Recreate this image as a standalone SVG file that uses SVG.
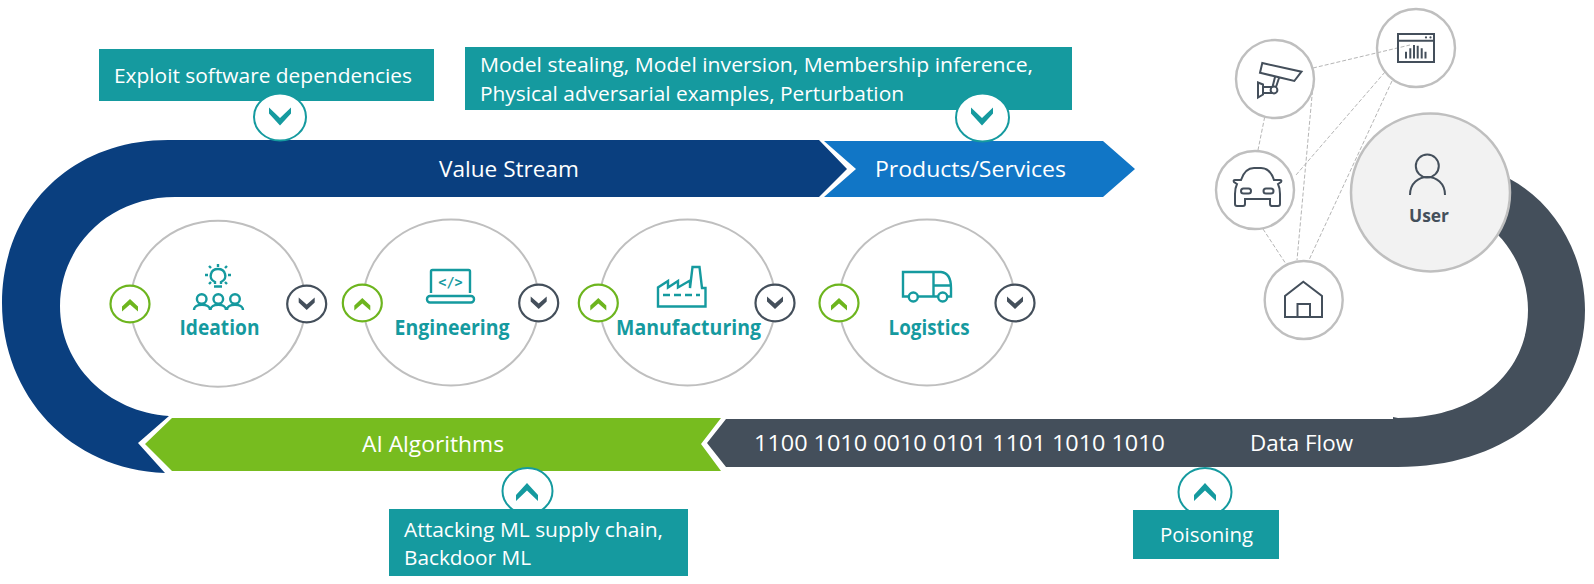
<svg xmlns="http://www.w3.org/2000/svg" width="1594" height="584" viewBox="0 0 1594 584">
<style>
.t{font-family:"Open Sans","Liberation Sans",sans-serif;fill:#fff}
.band{font-size:22.500px}
.box{font-size:20.500px}
.lab{font-family:"Open Sans","Liberation Sans",sans-serif;font-size:21px;font-weight:700;fill:#159a9f}
.teal{fill:#159a9f}
.big{fill:#fff;stroke:#bfbfbf;stroke-width:2}
.node{fill:#fff;stroke:#bfbfbf;stroke-width:2.4}
.call{fill:#fff;stroke:#159a9f;stroke-width:2}
.up{fill:#fff;stroke:#6db51e;stroke-width:2.2}
.dn{fill:#fff;stroke:#444f5b;stroke-width:2.2}
.ci{fill:none;stroke:#159a9f;stroke-width:2.400}
.di{fill:none;stroke:#444f5b;stroke-width:2}
.dash{stroke:#b5b5b5;stroke-width:1;stroke-dasharray:4 2;fill:none}
</style>
<defs>
<polygon id="chevL" points="-11,-9 0,1.500 11,-9 11,-3 0,9 -11,-3"/>
<polygon id="chevS" points="-8,-6.500 0,0.500 8,-6.500 8,-1.500 0,6 -8,-1.500"/>
</defs>

<g id="bands">
<path id="value-stream" fill="#0a3f7f" d="M168,140 L819,140 L847,169 L819,197 L175,197 C108,197 60,247 60,306 C60,365 108,412 169,416 L138,443 L165,473 C70,470 2,395 2,303 C2,210 70,140 168,140 Z"/>
<polygon id="products" fill="#1176c6" points="824,141 1103,141 1135,169 1103,197 824,197 856,169"/>
<polygon id="ai" fill="#77bc1f" points="172,418 721,418 701,444 721,471 172,471 145,444"/>
<path id="data-flow" fill="#444f5b" d="M1510,179 C1558,205 1585,258 1585,310 C1585,400 1510,467 1398,467 L726,467 L707,443 L726,419 L1393,419 L1393,417 L1398,418 C1480,418 1528,370 1528,310 C1528,280 1515,252 1498,235 Z"/>
<text class="t band" x="439" y="177" textLength="140" lengthAdjust="spacingAndGlyphs">Value Stream</text>
<text class="t band" x="875" y="177" textLength="191" lengthAdjust="spacingAndGlyphs">Products/Services</text>
<text class="t band" x="362" y="452" textLength="142" lengthAdjust="spacingAndGlyphs">AI Algorithms</text>
<text class="t band" x="754" y="451" textLength="411" lengthAdjust="spacingAndGlyphs">1100 1010 0010 0101 1101 1010 1010</text>
<text class="t band" x="1250" y="451" textLength="103" lengthAdjust="spacingAndGlyphs">Data Flow</text>
</g>

<g id="callout-exploit">
<rect class="teal" x="99" y="49" width="335" height="52"/>
<text class="t box" x="114" y="83" textLength="298" lengthAdjust="spacingAndGlyphs">Exploit software dependencies</text>
<ellipse class="call" cx="280" cy="117" rx="26" ry="23.5"/>
<use href="#chevL" class="teal" x="280" y="116.500"/>
</g>
<g id="callout-model">
<rect class="teal" x="465" y="47" width="607" height="63"/>
<text class="t box" x="480" y="72" textLength="553" lengthAdjust="spacingAndGlyphs">Model stealing, Model inversion, Membership inference,</text>
<text class="t box" x="480" y="101" textLength="424" lengthAdjust="spacingAndGlyphs">Physical adversarial examples, Perturbation</text>
<ellipse class="call" cx="982.500" cy="117.500" rx="26.500" ry="24"/>
<use href="#chevL" class="teal" x="982" y="116.500"/>
</g>
<g id="callout-attacking">
<ellipse class="call" cx="527.500" cy="491" rx="25" ry="23"/>
<use href="#chevL" class="teal" x="527" y="492" transform="rotate(180 527 492)"/>
<rect class="teal" x="389" y="509" width="299" height="67"/>
<text class="t box" x="404" y="537" textLength="259" lengthAdjust="spacingAndGlyphs">Attacking ML supply chain,</text>
<text class="t box" x="404" y="565" textLength="127" lengthAdjust="spacingAndGlyphs">Backdoor ML</text>
</g>
<g id="callout-poisoning">
<ellipse class="call" cx="1205" cy="492" rx="26.500" ry="24"/>
<use href="#chevL" class="teal" x="1205" y="492" transform="rotate(180 1205 492)"/>
<rect class="teal" x="1133" y="510" width="146" height="49"/>
<text class="t box" x="1160" y="542" textLength="93" lengthAdjust="spacingAndGlyphs">Poisoning</text>
</g>

<g id="ideation">
<ellipse class="big" cx="218" cy="303.700" rx="87.500" ry="83"/>
<ellipse class="up" cx="130" cy="304" rx="19.500" ry="18.300"/>
<use href="#chevS" fill="#6db51e" x="130" y="305" transform="rotate(180 130 305)"/>
<ellipse class="dn" cx="306.700" cy="304" rx="19.500" ry="18.300"/>
<use href="#chevS" fill="#444f5b" x="306.700" y="304"/>
<path class="ci" d="M215,284 L215,282 C211,280 210,277 211,274 C212,270 215,269 218,269 C221,269 224,270 225,274 C226,277 225,280 221,282 L221,284 M214,286.500 L222,286.500"/>
<path class="ci" d="M218,264 V267 M205,275 H208 M228,275 H231 M209,266 L211,268 M227,266 L225,268 M209,284 L211,282 M227,284 L225,282"/>
<circle class="ci" cx="201.700" cy="299" r="4.800"/><circle class="ci" cx="218.300" cy="299" r="4.800"/><circle class="ci" cx="235" cy="299" r="4.800"/>
<path class="ci" d="M194,310 C194,303 210,303 210,310 M210.500,310 C210.500,303 226,303 226,310 M227,310 C227,303 243,303 243,310"/>
<text class="lab" x="179.500" y="335" textLength="80" lengthAdjust="spacingAndGlyphs">Ideation</text>
</g>
<g id="engineering">
<ellipse class="big" cx="451" cy="302.500" rx="88" ry="83"/>
<ellipse class="up" cx="362.300" cy="303" rx="19.500" ry="18.300"/>
<use href="#chevS" fill="#6db51e" x="362.300" y="304" transform="rotate(180 362.300 304)"/>
<ellipse class="dn" cx="538.700" cy="303" rx="19.500" ry="18.300"/>
<use href="#chevS" fill="#444f5b" x="538.700" y="303"/>
<path class="ci" d="M431,293 V271.500 Q431,270 432.500,270 H468.500 Q470,270 470,271.500 V293"/>
<rect class="ci" x="427" y="296" width="47" height="6.500" rx="3"/>
<text x="450.500" y="287" text-anchor="middle" font-family="'DejaVu Sans Mono',monospace" font-size="13.500" font-weight="700" fill="#159a9f">&lt;/&gt;</text>
<text class="lab" x="394.500" y="335" textLength="115" lengthAdjust="spacingAndGlyphs">Engineering</text>
</g>
<g id="manufacturing">
<ellipse class="big" cx="687.500" cy="302.500" rx="88" ry="83"/>
<ellipse class="up" cx="598.300" cy="303" rx="19.500" ry="18.300"/>
<use href="#chevS" fill="#6db51e" x="598.300" y="304" transform="rotate(180 598.300 304)"/>
<ellipse class="dn" cx="775" cy="303" rx="19.500" ry="18.300"/>
<use href="#chevS" fill="#444f5b" x="775" y="303"/>
<path class="ci" d="M658,306.500 V287.500 L668,281 V287.500 L678,281 V287.500 L690,280.500 V288 L692.500,267 H699.500 L702,288 H705.500 V306.500 Z"/>
<path class="ci" d="M663,295 H700" stroke-dasharray="7 4"/>
<text class="lab" x="616" y="335" textLength="145" lengthAdjust="spacingAndGlyphs">Manufacturing</text>
</g>
<g id="logistics">
<ellipse class="big" cx="927" cy="302.500" rx="88" ry="83"/>
<ellipse class="up" cx="839" cy="303" rx="19.500" ry="18.300"/>
<use href="#chevS" fill="#6db51e" x="839" y="304" transform="rotate(180 839 304)"/>
<ellipse class="dn" cx="1015" cy="303" rx="19.500" ry="18.300"/>
<use href="#chevS" fill="#444f5b" x="1015" y="303"/>
<path class="ci" d="M909,296.500 H903 V272 H941 Q951,273 951,288 V296.500 H947.500 M938,296.500 H918 M933.500,272 V296 M933.500,285.500 H951"/>
<circle class="ci" cx="913.300" cy="297" r="4.500"/><circle class="ci" cx="942.700" cy="297" r="4.500"/>
<text class="lab" x="888.500" y="335" textLength="81" lengthAdjust="spacingAndGlyphs">Logistics</text>
</g>

<g id="connectors">
<line class="dash" x1="1313" y1="68" x2="1410" y2="45"/>
<line class="dash" x1="1264.700" y1="117" x2="1258" y2="150"/>
<line class="dash" x1="1313" y1="85" x2="1297" y2="260"/>
<line class="dash" x1="1385" y1="72" x2="1296" y2="175"/>
<line class="dash" x1="1392" y1="81" x2="1309" y2="260"/>
<line class="dash" x1="1263" y1="229" x2="1286" y2="264"/>
</g>

<g id="camera">
<ellipse cx="1275" cy="79" rx="39" ry="39" fill="none" stroke="#bfbfbf" stroke-width="2.400"/>
<path class="di" d="M1262.300,63 L1301.500,71.700 L1294.300,81 L1260,72.700 Z M1275,77 L1272.500,87 M1279,78 L1276,87 M1272,87 H1263 M1272,93 H1263"/>
<circle class="di" cx="1274" cy="90" r="3.400"/>
<path class="di" d="M1258,82.500 L1263,84.500 V94.500 L1258,97.500 Z"/>
</g>
<g id="dashboard">
<ellipse cx="1416" cy="48" rx="39" ry="39" fill="none" stroke="#bfbfbf" stroke-width="2.400"/>
<rect class="di" x="1398" y="34" width="36" height="28"/>
<path class="di" d="M1398,40.700 H1434"/>
<path class="di" d="M1406,58.500 V51.700 M1410.300,58.500 V48.300 M1414,58.500 V45 M1417.700,58.500 V45.700 M1421.700,58.500 V48.300 M1425.500,58.500 V51.700" stroke-width="2"/>
<circle cx="1426" cy="37.400" r="1.100" fill="#444f5b"/><circle cx="1430.500" cy="37.400" r="1.100" fill="#444f5b"/>
</g>
<g id="car">
<ellipse class="node" cx="1255" cy="190" rx="39" ry="39"/>
<path class="di" d="M1241,180 Q1245,168 1254,168 H1261 Q1270,168 1274,180 H1280 Q1282,180 1281,182 L1278,184 Q1280,188 1280,194 V204 Q1280,206 1278,206 H1272 Q1270,206 1270,204 V199 H1245 V204 Q1245,206 1243,206 H1237 Q1235,206 1235,204 V194 Q1235,188 1237,184 L1234,182 Q1233,180 1235,180 Z"/>
<rect class="di" x="1241" y="188.500" width="10" height="5" rx="2.500"/>
<rect class="di" x="1263.500" y="188.500" width="10" height="5" rx="2.500"/>
</g>
<g id="home">
<ellipse class="node" cx="1303.700" cy="300" rx="39" ry="39"/>
<path class="di" d="M1285,317 V296 L1303.300,281.700 L1322,296 V317 Z M1297.500,317 V304 H1310 V317"/>
</g>
<g id="user">
<ellipse cx="1430.500" cy="192.500" rx="79.500" ry="79" fill="#f2f2f2" stroke="#bfbfbf" stroke-width="2.500"/>
<circle class="di" cx="1427.300" cy="166" r="11.500" stroke-width="2.200"/>
<path class="di" d="M1410,195 C1410,171 1445,171 1445,195" stroke-width="2.200"/>
<text x="1409" y="221.500" textLength="40" lengthAdjust="spacingAndGlyphs" font-family="'Open Sans','Liberation Sans',sans-serif" font-size="18.500" font-weight="700" fill="#444f5b">User</text>
</g>
</svg>
